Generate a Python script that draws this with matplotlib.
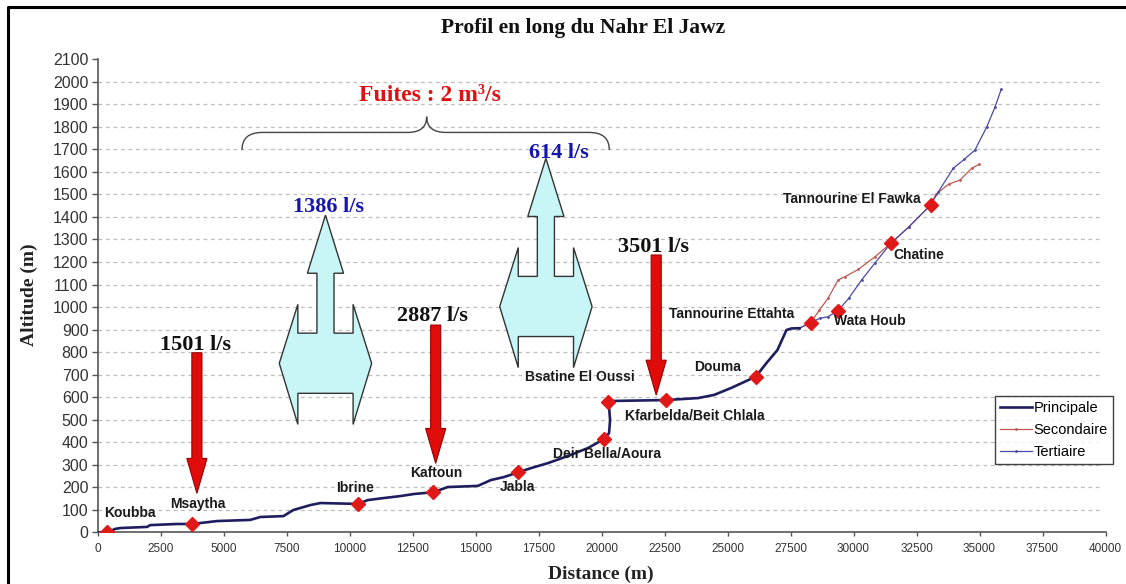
import numpy as np
import matplotlib
matplotlib.use("Agg")
import matplotlib.pyplot as plt
from matplotlib.patches import Polygon, PathPatch
from matplotlib.path import Path
from matplotlib.lines import Line2D

# === Profil principal (distance en m, altitude en m) ===
dist_principale = [0, 390, 700, 900, 1970, 2090, 3160, 3750, 4750, 6060, 6460, 7380,
                   7770, 8450, 8850, 10350, 10720, 11350, 12030, 12550, 13330, 13900,
                   15090, 15610, 16120, 16690, 17200, 17870, 18670, 19460, 20090, 20300,
                   20340, 20300, 20250, 20380, 22540, 23840, 24470, 25150, 26120, 26580,
                   26980, 27340, 27540, 27850]
alt_principale = [0, 0, 15, 19, 24, 32, 37, 37, 50, 55, 68, 72,
                  99, 121, 130, 126, 143, 152, 161, 170, 178, 201,
                  206, 232, 245, 266, 285, 307, 339, 374, 413, 441,
                  498, 556, 580, 583, 587, 596, 610, 641, 691, 756,
                  809, 898, 905, 906]

# === Branche secondaire ===
dist_secondaire = [27850, 28300, 28650, 28990, 29390, 29650, 30190, 30850, 31480, 32190,
                   33060, 33270, 33770, 34230, 34690, 34980]
alt_secondaire = [906, 930, 987, 1039, 1120, 1134, 1167, 1223, 1283, 1355,
                  1453, 1500, 1545, 1564, 1616, 1633]

# === Branche tertiaire ===
dist_tertiaire = [27850, 28300, 28660, 28990, 29390, 29820, 30320, 30850, 31480, 32190,
                  33060, 33370, 33960, 34400, 34820, 35290, 35620, 35860]
alt_tertiaire = [906, 930, 950, 957, 984, 1040, 1120, 1195, 1283, 1355,
                 1453, 1512, 1616, 1656, 1697, 1800, 1889, 1966]

# === Localités ===
noms = ["Koubba", "Msaytha", "Ibrine", "Kaftoun", "Jabla", "Deir Bella/Aoura",
        "Bsatine El Oussi", "Kfarbelda/Beit Chlala", "Douma", "Tannourine Ettahta",
        "Wata Houb", "Chatine", "Tannourine El Fawka"]
dist_loc = [390, 3750, 10350, 13330, 16690, 20090, 20250, 22540, 26120, 28300,
            29390, 31480, 33060]
alt_loc = [0, 37, 126, 178, 266, 413, 580, 587, 691, 930, 984, 1283, 1453]
# position des étiquettes (centre du texte)
etiq_x = [1300, 4000, 10230, 13440, 16680, 20220, 19150, 23690, 24590, 25160,
          30630, 32580, 29920]
etiq_y = [86, 126, 195, 265, 202, 346, 691, 518, 732, 968, 939, 1231, 1479]

# === Apports (flèches rouges) ===
apports = [1501, 2887, 3501]
apport_x = [3944, 13420, 22170]
apport_haut = [797, 920, 1231]
apport_bas = [173, 306, 609]
apport_txt = [(3877, 831), (13280, 960), (22050, 1266)]

# === Pertes (flèches bleu clair) ===
pertes = [1386, 614]
perte_x = [9046, 17793]
perte_y = [1408, 1660]
perte_txt = [(9165, 1444), (18290, 1685)]

SERIF = "Liberation Serif"
SANS = "Liberation Sans"

fig = plt.figure(figsize=(11.26, 5.84), dpi=100)
ax = fig.add_axes([0.0866, 0.0885, 0.8952, 0.8101])
ax.set_xlim(0, 40000)
ax.set_ylim(0, 2100)

for s in ["top", "right"]:
    ax.spines[s].set_visible(False)
for s in ["left", "bottom"]:
    ax.spines[s].set_color("#555555")
    ax.spines[s].set_linewidth(1.2)

ax.set_xticks(np.arange(0, 40001, 2500))
ax.set_yticks(np.arange(0, 2101, 100))
ax.tick_params(axis="y", direction="out", length=4.5, width=1, color="#555555",
               pad=2, labelsize=11.5, labelcolor="#333333")
ax.tick_params(axis="x", direction="out", length=3, width=1, color="#555555",
               pad=5, labelsize=8.5, labelcolor="#333333")
for lab in ax.get_xticklabels() + ax.get_yticklabels():
    lab.set_fontfamily(SANS)

# quadrillage pointillé
ax.hlines(np.arange(100, 2001, 100), 0, 39750, colors="#bdbdbd", lw=0.9,
          linestyles=(0, (3, 3)), zorder=0)

# courbes
ax.plot(dist_secondaire, alt_secondaire, color="#c05a55", lw=0.9, marker=".",
        ms=2, zorder=3, label="Secondaire")
ax.plot(dist_tertiaire, alt_tertiaire, color="#4a4aa5", lw=0.9, marker=".",
        ms=2, zorder=3, label="Tertiaire")
ax.plot(dist_principale, alt_principale, color="#1e1e5e", lw=1.9, zorder=4,
        label="Principale")
ax.plot(dist_loc, alt_loc, ls="none", marker="D", ms=6.8, color="#e01818",
        zorder=5)

for nom, x, y in zip(noms, etiq_x, etiq_y):
    ax.text(x, y, nom, ha="center", va="center", fontsize=10, fontweight="bold",
            family=SANS, color="#1a1a1a", zorder=6)

# flèches rouges (apports)
for v, x, yh, yb, (tx, ty) in zip(apports, apport_x, apport_haut, apport_bas, apport_txt):
    ax.arrow(x, yh, 0, yb - yh, width=400, head_width=800, head_length=155,
             length_includes_head=True, fc="#e00c0c", ec="#9a0000", lw=0.8, zorder=6)
    ax.text(tx, ty, f"{v} l/s", ha="center", va="center", fontsize=16,
            fontweight="bold", family=SERIF, color="#111111", zorder=7)

# formes bleu clair (pertes)
def forme_perte(x0, y0):
    hh, lh = 717, 258
    hs, ys = 339, 524
    hp, yp = 1096, 396
    hv, yv = 1833, 658
    yi, yt = 791, 929
    demi = [(hh, -lh), (hs, -lh), (hs, -ys), (hp, -ys), (hp, -yp), (hv, -yv),
            (hp, -yt), (hp, -yi)]
    pts = [(0, 0)] + demi + [(-dx, dy) for dx, dy in demi[::-1]]
    return [(x0 + dx, y0 + dy) for dx, dy in pts]

for v, x, y, (tx, ty) in zip(pertes, perte_x, perte_y, perte_txt):
    ax.add_patch(Polygon(forme_perte(x, y), closed=True, fc="#c8f6f6",
                         ec="#333333", lw=1, zorder=6))
    ax.text(tx, ty, f"{v} l/s", ha="center", va="center", fontsize=16,
            fontweight="bold", family=SERIF, color="#1515b0", zorder=7)

# accolade des fuites
xg, xm, xd = 5733, 13062, 20310
yb, yh, yc = 1697, 1775, 1845
verts = [(xg, yb), (xg, yh), (xg + 800, yh),
         (xm - 760, yh), (xm, yh), (xm, yc),
         (xm, yh), (xm + 760, yh),
         (xd - 800, yh), (xd, yh), (xd, yb)]
codes = [Path.MOVETO, Path.CURVE3, Path.CURVE3,
         Path.LINETO, Path.CURVE3, Path.CURVE3,
         Path.CURVE3, Path.CURVE3,
         Path.LINETO, Path.CURVE3, Path.CURVE3]
ax.add_patch(PathPatch(Path(verts, codes), fc="none", ec="#444444", lw=1.0, zorder=6))
ax.text(13180, 1940, "Fuites : 2 m³/s", ha="center", va="center", fontsize=17,
        fontweight="bold", family=SERIF, color="#dd1111", zorder=7)

# légende
h, l = ax.get_legend_handles_labels()
ordre = [2, 0, 1]
leg = ax.legend([h[i] for i in ordre], [l[i] for i in ordre], loc="upper right",
                bbox_to_anchor=(1113 / 1126, 1 - 396 / 584),
                bbox_transform=fig.transFigure, frameon=True, fancybox=False,
                prop={"family": SANS, "size": 10.5}, handlelength=2.2,
                handletextpad=0.1, labelspacing=0.55, borderpad=0.35,
                borderaxespad=0)
leg.get_frame().set_edgecolor("#111111")
leg.get_frame().set_linewidth(1)

# titres
fig.text(0.518, 0.952, "Profil en long du Nahr El Jawz", ha="center", va="center",
         fontsize=15.5, fontweight="bold", family=SERIF, color="#111111")
fig.text(0.534, 0.017, "Distance (m)", ha="center", va="center", fontsize=14,
         fontweight="bold", family=SERIF, color="#222222")
fig.text(0.026, 0.495, "Altitude (m)", ha="center", va="center", rotation=90,
         fontsize=14, fontweight="bold", family=SERIF, color="#222222")

# cadre extérieur (gauche et haut)
fig.add_artist(Line2D([8 / 1126, 8 / 1126, 1.0], [0.0, 1 - 7 / 584, 1 - 7 / 584],
                      transform=fig.transFigure, color="black", lw=2.2))

fig.savefig("out.png", dpi=100)
